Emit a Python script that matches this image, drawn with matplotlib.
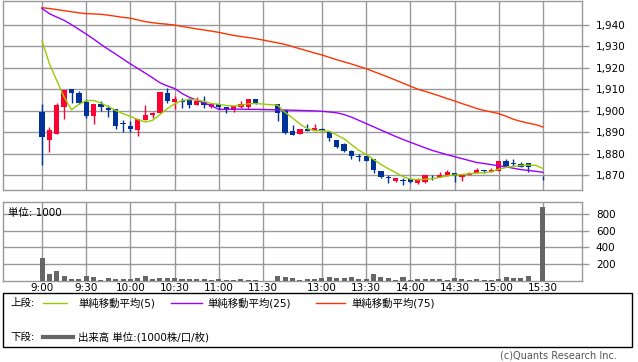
import matplotlib
matplotlib.use("Agg")
import matplotlib.pyplot as plt
from matplotlib.lines import Line2D
from matplotlib.patches import Rectangle

plt.rcParams["font.family"] = ["DejaVu Sans", "Noto Sans CJK JP"]

# 5-minute slots: 0 = 9:00 ... 29 = 11:25, 32 = 12:30 ... 66 = 15:20, 68 = 15:30 close
candle_slots = list(range(0, 30)) + list(range(32, 67)) + [68]
opens = [1899.2, 1886.2, 1889.3, 1901.6, 1910.0, 1908.4, 1903.9, 1897.3, 1902.9, 1901.3,
         1901.0, 1893.9, 1893.0, 1890.8, 1895.5, 1897.8, 1898.8, 1908.4, 1903.9, 1904.7,
         1905.2, 1902.5, 1903.9, 1901.9, 1903.0, 1901.9, 1900.4, 1901.6, 1901.9, 1905.2,
         1902.9, 1900.1, 1890.5, 1889.0, 1891.6, 1890.8, 1891.6, 1890.0, 1886.2, 1884.7,
         1881.3, 1878.5, 1878.9, 1877.3, 1871.9, 1868.9, 1867.4, 1867.4, 1868.0, 1866.2,
         1866.8, 1870.3, 1869.1, 1869.5, 1870.8, 1869.2, 1870.1, 1870.9, 1871.9, 1871.3,
         1872.0, 1876.5, 1875.4, 1875.4, 1875.7, 1868.5]
highs = [1902.9, 1892.4, 1903.5, 1909.7, 1910.3, 1909.0, 1905.3, 1902.9, 1904.3, 1902.4,
         1901.0, 1895.5, 1895.0, 1896.2, 1902.4, 1899.3, 1908.9, 1910.6, 1907.0, 1906.0,
         1906.0, 1906.2, 1907.0, 1903.0, 1903.0, 1901.9, 1902.3, 1904.7, 1905.2, 1905.2,
         1902.9, 1900.1, 1893.3, 1891.6, 1893.9, 1893.9, 1892.1, 1890.0, 1886.2, 1885.0,
         1881.6, 1879.7, 1878.9, 1877.3, 1871.9, 1870.3, 1868.8, 1868.5, 1868.0, 1868.8,
         1869.9, 1870.3, 1871.3, 1872.3, 1870.8, 1870.5, 1871.7, 1873.4, 1872.6, 1873.2,
         1876.5, 1877.4, 1877.4, 1876.2, 1875.7, 1869.5]
lows = [1874.6, 1880.8, 1889.0, 1896.2, 1903.5, 1903.0, 1896.7, 1893.6, 1899.8, 1897.0,
        1891.4, 1890.0, 1890.0, 1888.2, 1895.5, 1896.7, 1898.8, 1903.5, 1900.6, 1901.3,
        1901.2, 1902.5, 1901.2, 1901.2, 1901.0, 1898.8, 1899.6, 1901.2, 1901.0, 1903.2,
        1895.1, 1889.0, 1888.7, 1889.0, 1890.5, 1890.8, 1890.5, 1885.9, 1882.6, 1881.0,
        1877.7, 1876.6, 1876.6, 1870.8, 1868.9, 1866.4, 1866.9, 1865.4, 1866.2, 1865.7,
        1866.4, 1867.7, 1869.1, 1869.5, 1866.9, 1867.4, 1870.1, 1870.9, 1871.1, 1871.3,
        1871.9, 1873.8, 1874.3, 1873.8, 1871.5, 1867.7]
closes = [1887.7, 1890.8, 1902.4, 1909.7, 1908.4, 1903.5, 1897.5, 1902.9, 1901.6, 1900.1,
          1892.7, 1893.9, 1891.3, 1895.9, 1898.2, 1898.8, 1908.9, 1904.7, 1905.2, 1903.8,
          1902.5, 1904.7, 1902.5, 1903.0, 1901.9, 1900.6, 1902.3, 1902.9, 1905.2, 1903.5,
          1898.8, 1889.6, 1888.7, 1891.6, 1890.5, 1892.1, 1890.5, 1887.3, 1883.1, 1881.3,
          1878.9, 1878.5, 1876.6, 1872.3, 1869.2, 1868.9, 1868.8, 1867.4, 1866.8, 1867.7,
          1869.9, 1869.9, 1870.3, 1871.4, 1869.5, 1870.5, 1871.1, 1872.6, 1871.9, 1872.6,
          1876.5, 1874.3, 1875.4, 1873.8, 1873.8, 1868.5]

ma_slots = list(range(0, 30)) + list(range(32, 69))
ma5 = [1932.5, 1921.8, 1914.0, 1906.3, 1900.4, 1902.9, 1904.7, 1904.7, 1903.5, 1901.9,
       1900.1, 1898.6, 1897.3, 1895.9, 1894.7, 1895.5, 1898.2, 1900.9, 1903.2, 1904.7,
       1905.2, 1905.0, 1904.3, 1903.3, 1903.0, 1902.4, 1902.2, 1902.5, 1903.2, 1903.3,
       1902.5, 1899.2, 1896.6, 1893.8, 1891.7, 1890.7, 1890.7, 1890.4, 1888.7, 1886.9,
       1884.2, 1881.6, 1879.6, 1877.3, 1875.0, 1873.0, 1871.2, 1869.3, 1868.2, 1867.9,
       1868.1, 1868.4, 1868.9, 1869.7, 1870.1, 1870.3, 1870.6, 1871.0, 1871.1, 1871.6,
       1872.8, 1873.6, 1874.1, 1874.5, 1874.7, 1874.6, 1873.1]
ma25 = [1947.5, 1945.1, 1943.5, 1942.0, 1940.0, 1937.8, 1935.6, 1933.3, 1930.8, 1928.5,
        1926.3, 1924.0, 1921.7, 1919.6, 1917.5, 1915.3, 1913.0, 1911.5, 1910.3, 1908.0,
        1906.2, 1904.9, 1903.5, 1902.3, 1900.6, 1900.6, 1900.7, 1900.7, 1900.6, 1900.6,
        1900.4, 1900.3, 1900.2, 1900.1, 1900.0, 1899.9, 1899.7, 1899.4, 1899.0, 1898.2,
        1897.0, 1895.5, 1894.0, 1892.5, 1891.0, 1889.5, 1888.0, 1886.6, 1885.3, 1884.0,
        1882.7, 1881.5, 1880.5, 1879.5, 1878.6, 1877.7, 1876.8, 1875.9, 1875.4, 1874.9,
        1874.3, 1873.9, 1873.2, 1872.6, 1872.2, 1871.8, 1871.3]
ma75 = [1947.9, 1947.5, 1947.0, 1946.5, 1946.0, 1945.5, 1945.1, 1945.0, 1944.8, 1944.4,
        1943.9, 1943.4, 1943.0, 1942.2, 1941.4, 1940.9, 1940.5, 1940.2, 1939.8, 1939.2,
        1938.6, 1938.0, 1937.5, 1937.0, 1936.4, 1935.7, 1935.0, 1934.5, 1934.0, 1933.5,
        1931.5, 1930.8, 1929.8, 1928.8, 1927.8, 1926.8, 1925.9, 1924.8, 1923.7, 1922.7,
        1921.7, 1920.6, 1919.5, 1918.2, 1916.9, 1915.6, 1914.2, 1912.8, 1911.4, 1910.0,
        1909.0, 1907.9, 1906.8, 1905.6, 1904.5, 1903.3, 1902.2, 1901.0, 1900.1, 1899.4,
        1898.6, 1897.4, 1896.0, 1895.0, 1894.2, 1893.5, 1892.4]

volumes = [269, 79, 115, 58, 18, 18, 55, 42, 5, 30,
           24, 24, 24, 30, 55, 24, 30, 30, 30, 24,
           24, 24, 24, 8, 18, 8, 8, 18, 8, 8,
           58, 46, 30, 8, 18, 18, 26, 42, 30, 30,
           42, 18, 18, 79, 42, 30, 3, 42, 4, 18,
           18, 18, 18, 4, 30, 18, 8, 18, 8, 8,
           18, 42, 30, 30, 55, 887]

time_ticks = [0, 6, 12, 18, 24, 30, 38, 44, 50, 56, 62, 68]
time_labels = ["9:00", "9:30", "10:00", "10:30", "11:00", "11:30",
               "13:00", "13:30", "14:00", "14:30", "15:00", "15:30"]
price_ticks = [1870, 1880, 1890, 1900, 1910, 1920, 1930, 1940]
price_labels = ["1,870", "1,880", "1,890", "1,900", "1,910", "1,920", "1,930", "1,940"]
vol_ticks = [200, 400, 600, 800]

UP = "#ff0033"
DOWN = "#003399"
GRID = "#999999"
W, H = 638, 362

fig = plt.figure(figsize=(W / 100, H / 100), dpi=100)
ax = fig.add_axes([3 / W, 1 - 190 / H, 579 / W, 189 / H])
axv = fig.add_axes([3 / W, 1 - 280.5 / H, 579 / W, 78.5 / H])

for a in (ax, axv):
    a.set_xlim(-5.3, 73.3)
    a.set_xticks(time_ticks)
    a.grid(True, color=GRID, linewidth=1.0)
    a.set_axisbelow(True)
    for s in a.spines.values():
        s.set_color(GRID)
        s.set_linewidth(1.0)
    a.yaxis.tick_right()
    a.tick_params(axis="y", direction="out", length=5, width=1, color=GRID,
                  labelsize=7.5, pad=5)
    a.tick_params(axis="x", length=0, labelsize=7.5, pad=2)

# candles
for s, o, h, l, c in zip(candle_slots, opens, highs, lows, closes):
    col = UP if c > o else DOWN
    ax.vlines(s, l, h, color=col, linewidth=1.0, zorder=3)
    ax.bar(s, max(abs(c - o), 0.35), bottom=min(o, c), width=0.72,
           color=col, linewidth=0, zorder=4)

ax.plot(ma_slots, ma75, color="#ff3300", linewidth=1.0, zorder=5)
ax.plot(ma_slots, ma25, color="#9900ff", linewidth=1.0, zorder=5)
ax.plot(ma_slots, ma5, color="#99cc00", linewidth=1.0, zorder=6)

ax.set_ylim(1863.1, 1951.0)
ax.set_yticks(price_ticks)
ax.set_yticklabels(price_labels)
ax.set_xticklabels([])

axv.bar(candle_slots, volumes, width=0.68, color="#666666", zorder=3)
axv.set_ylim(0, 950)
axv.set_yticks(vol_ticks)
axv.set_xticklabels(time_labels)
axv.text(0.008, 0.93, "単位: 1000", transform=axv.transAxes, fontsize=7.5,
         va="top", ha="left", zorder=5)

# legend box
def fx(px):
    return px / W

def fy(py):
    return 1 - py / H

fig.patches.append(Rectangle((fx(3), fy(347)), fx(632) - fx(3), fy(293) - fy(347),
                             transform=fig.transFigure, fill=False,
                             edgecolor="black", linewidth=1.0))
fs = 7.5
fig.text(fx(10), fy(303), "上段:", fontsize=fs, va="center")
entries = [(43, 67, 78, "#99cc00", "単純移動平均(5)"),
           (171, 202, 207, "#9900ff", "単純移動平均(25)"),
           (316, 345, 351, "#ff3300", "単純移動平均(75)")]
for x0, x1, xt, col, label in entries:
    fig.lines.append(Line2D([fx(x0), fx(x1)], [fy(303), fy(303)],
                            transform=fig.transFigure, color=col, linewidth=1.0))
    fig.text(fx(xt), fy(303), label, fontsize=fs, va="center")
fig.text(fx(10), fy(337), "下段:", fontsize=fs, va="center")
fig.lines.append(Line2D([fx(43), fx(73)], [fy(337), fy(337)],
                        transform=fig.transFigure, color="#666666", linewidth=3.0))
fig.text(fx(78), fy(337), "出来高 単位:(1000株/口/枚)", fontsize=fs, va="center")

fig.text(fx(617), fy(356), "(c)Quants Research Inc.", fontsize=7, color="#555555",
         ha="right", va="center")

fig.savefig("out.png", dpi=100)
